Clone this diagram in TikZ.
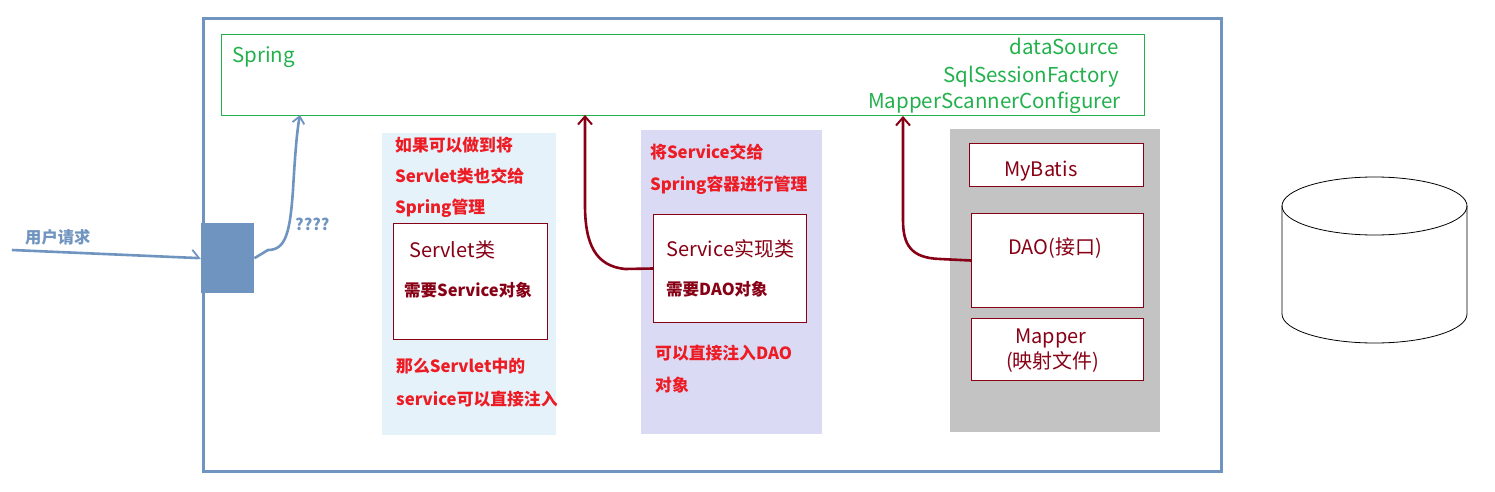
\documentclass[tikz,border=0pt]{standalone}
\usepackage{fontspec}
\setmainfont{Noto Sans CJK SC}
\usetikzlibrary{arrows.meta,calc}
\definecolor{blueline}{RGB}{112,148,192}
\definecolor{sgreen}{RGB}{34,177,76}
\definecolor{sred}{RGB}{237,28,36}
\definecolor{dred}{RGB}{136,0,21}
\definecolor{pblue}{RGB}{230,242,250}
\definecolor{plav}{RGB}{218,218,244}
\definecolor{pgray}{RGB}{195,195,195}
\tikzset{
  box/.style={draw=dred, line width=1pt, fill=white, anchor=north west, inner sep=0pt},
  panel/.style={anchor=north west, inner sep=0pt, draw=none},
  txt/.style={anchor=base west, inner sep=0pt},
  greentxt/.style={anchor=base east, inner sep=0pt, text=sgreen, font=\fontsize{20.5}{20.5}\selectfont},
  redtxt/.style={txt, text=sred, font=\fontsize{16.8}{16.8}\selectfont\bfseries},
  boxtitle/.style={txt, text=dred, font=\fontsize{20}{20}\selectfont},
  boxsub/.style={txt, text=dred, font=\fontsize{16.5}{16.5}\selectfont\bfseries},
  redarrow/.style={draw=dred, line width=2.6pt, -{Straight Barb[length=8pt,width=14pt,line width=2pt]}},
}
\begin{document}
\begin{tikzpicture}[x=1pt,y=-1pt]
\useasboundingbox (0,0) rectangle (1495,492);
\fill[white] (0,0) rectangle (1495,492);

% outer container
\node[draw=blueline, line width=3pt, minimum width=1018pt, minimum height=453pt, anchor=north west, inner sep=0pt] (outer) at (202,17) {};

% spring container
\node[draw=sgreen, line width=1pt, minimum width=923pt, minimum height=81pt, anchor=north west, inner sep=0pt] (spring) at (221,34) {};
\node[txt, text=sgreen, font=\fontsize{20.5}{20.5}\selectfont] (springlbl) at (232,63) {Spring};
\node[greentxt] (ds) at (1119,55) {dataSource};
\node[greentxt] (ssf) at (1119,83) {SqlSessionFactory};
\node[greentxt] (msc) at (1121,109) {MapperScannerConfigurer};

% panels
\node[panel, fill=pblue, minimum width=174pt, minimum height=302pt] (p1) at (382,133) {};
\node[panel, fill=plav, minimum width=181pt, minimum height=304pt] (p2) at (641,130) {};
\node[panel, fill=pgray, minimum width=210pt, minimum height=303pt] (p3) at (950,129) {};

% panel 1
\node[redtxt] (t11) at (395,151) {如果可以做到将};
\node[redtxt] (t12) at (395,182) {Servlet类也交给};
\node[redtxt] (t13) at (395,213) {Spring管理};
\node[box, minimum width=154pt, minimum height=116pt] (servlet) at (393,223) {};
\node[boxtitle] (servlett) at (409,257) {Servlet类};
\node[boxsub] (servlets) at (404,296) {需要Service对象};
\node[redtxt] (t14) at (396,372) {那么Servlet中的};
\node[redtxt] (t15) at (396,405) {service可以直接注入};

% panel 2
\node[redtxt] (t21) at (650,158) {将Service交给};
\node[redtxt] (t22) at (650,190) {Spring容器进行管理};
\node[box, minimum width=153pt, minimum height=108pt] (svc) at (653,214) {};
\node[boxtitle] (svct) at (666,256) {Service实现类};
\node[boxsub] (svcs) at (666,295) {需要DAO对象};
\node[redtxt] (t23) at (655,359) {可以直接注入DAO};
\node[redtxt] (t24) at (655,391) {对象};

% panel 3
\node[box, minimum width=174pt, minimum height=43pt] (mybatis) at (969,143) {};
\node[boxtitle] (mybatist) at (1004,176) {MyBatis};
\node[box, minimum width=172pt, minimum height=94pt] (dao) at (971,213) {};
\node[boxtitle] (daot) at (1008,254) {DAO(接口)};
\node[box, minimum width=172pt, minimum height=62pt] (mapper) at (971,318) {};
\node[boxtitle] (mappert) at (1015,343) {Mapper};
\node[boxtitle] (mapperf) at (1006,368) {(映射文件)};

% database cylinder
\draw[black, line width=0.8pt] (1282,206) -- (1282,314) arc[start angle=180, end angle=360, x radius=92.5pt, y radius=29pt] -- (1467,206);
\draw[black, line width=0.8pt] (1374.5,206) ellipse[x radius=92.5pt, y radius=29pt];

% request square and arrow
\node[fill=blueline, minimum width=53pt, minimum height=70pt, anchor=north west, inner sep=0pt] (req) at (201,223) {};
\coordinate (start) at (12,250);
\draw[blueline, line width=2.6pt, -{Straight Barb[harpoon,length=7pt,width=16pt,line width=1.8pt]}] (start) -- (req.west);
\node[txt, text=blueline, font=\fontsize{16.3}{16.3}\selectfont\bfseries] (reqlbl) at (25,243) {用户请求};
\node[txt, text=blueline, font=\fontsize{16}{16}\selectfont\bfseries] (qq) at (295,230) {????};

% connectors into spring
\coordinate (sp0) at (300,115);
\coordinate (sp1) at (585,115);
\coordinate (sp2) at (903,116);
\draw[blueline, line width=2.6pt, -{Straight Barb[length=7pt,width=12pt,line width=1.8pt]}]
  (req.east) -- (268,250) .. controls (286,250) and (290,232) .. (293,190) .. controls (295,155) and (297,130) .. (sp0);
\draw[redarrow] (svc.west) -- (625,269) .. controls (596,266) and (585,245) .. (585,205) -- (sp1);
\draw[redarrow] (dao.west) -- (940,259) .. controls (911,258) and (903,245) .. (903,220) -- (sp2);
\end{tikzpicture}
\end{document}
